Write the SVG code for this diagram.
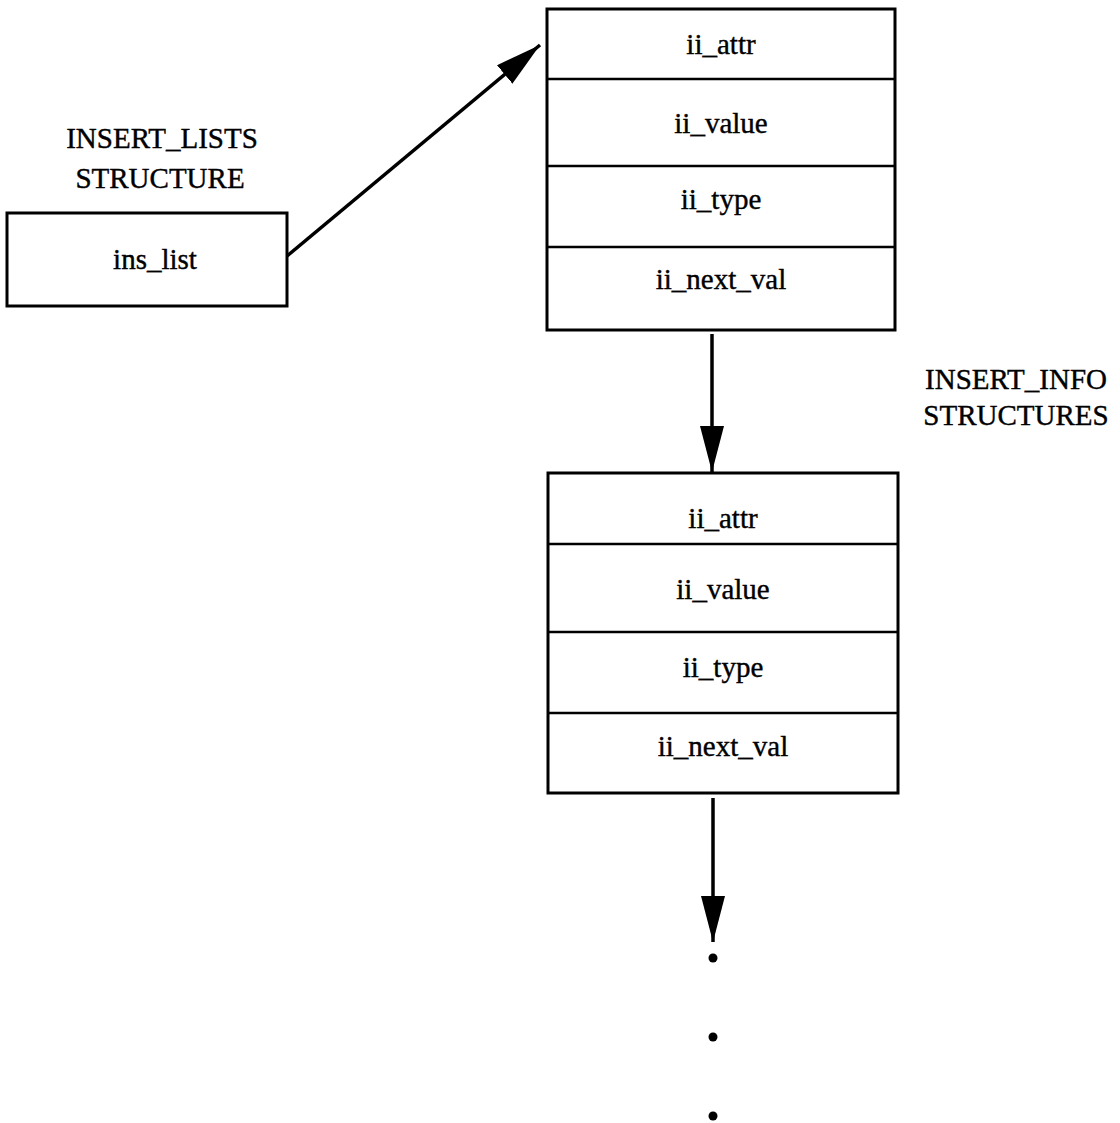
<svg xmlns="http://www.w3.org/2000/svg" width="1120" height="1123" viewBox="0 0 1120 1123">
<style>
.box{fill:none;stroke:#000;stroke-width:3}
.div{stroke:#000;stroke-width:2.5}
.t{font-family:"Liberation Serif","Times New Roman",serif;font-size:29px;fill:#000;stroke:#000;stroke-width:0.4;text-anchor:middle}
.edge{stroke:#000;stroke-width:3.5;fill:none}
</style>
<defs>
<marker id="ah" markerUnits="userSpaceOnUse" markerWidth="48" markerHeight="26" refX="46" refY="12" orient="auto">
<path d="M0,0 L46,12 L0,24 Z" fill="#000"/>
</marker>
</defs>
<rect width="1120" height="1123" fill="#fff"/>
<g id="labels">
<text class="t" x="162" y="148">INSERT_LISTS</text>
<text class="t" x="160" y="188">STRUCTURE</text>
<text class="t" x="1016" y="389">INSERT_INFO</text>
<text class="t" x="1016" y="425">STRUCTURES</text>
</g>
<g id="insert_lists">
<rect class="box" x="7" y="213" width="280" height="93"/>
<text class="t" x="155" y="269">ins_list</text>
</g>
<g id="insert_info_1">
<rect class="box" x="547" y="9" width="348" height="321"/>
<line class="div" x1="547" y1="79" x2="895" y2="79"/>
<line class="div" x1="547" y1="166" x2="895" y2="166"/>
<line class="div" x1="547" y1="247" x2="895" y2="247"/>
<text class="t" x="721" y="54">ii_attr</text>
<text class="t" x="721" y="133">ii_value</text>
<text class="t" x="721" y="209">ii_type</text>
<text class="t" x="721" y="289">ii_next_val</text>
</g>
<g id="insert_info_2">
<rect class="box" x="548" y="473" width="350" height="320"/>
<line class="div" x1="548" y1="544" x2="898" y2="544"/>
<line class="div" x1="548" y1="632" x2="898" y2="632"/>
<line class="div" x1="548" y1="713" x2="898" y2="713"/>
<text class="t" x="723" y="528">ii_attr</text>
<text class="t" x="723" y="599">ii_value</text>
<text class="t" x="723" y="677">ii_type</text>
<text class="t" x="723" y="756">ii_next_val</text>
</g>
<g id="connectors">
<line class="edge" x1="287" y1="256" x2="540" y2="45" marker-end="url(#ah)"/>
<line class="edge" x1="712" y1="334" x2="712" y2="472" marker-end="url(#ah)"/>
<line class="edge" x1="713" y1="798" x2="713" y2="942" marker-end="url(#ah)"/>
</g>
<g id="continuation">
<circle cx="713" cy="958" r="4.5" fill="#000"/>
<circle cx="713" cy="1037" r="4.5" fill="#000"/>
<circle cx="713" cy="1116" r="4.5" fill="#000"/>
</g>
</svg>
